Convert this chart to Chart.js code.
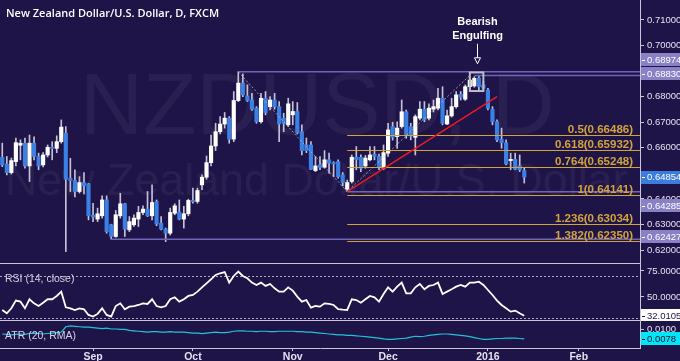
<!DOCTYPE html>
<html>
<head>
<meta charset="utf-8">
<title>NZD/USD daily</title>
<script src="https://cdn.jsdelivr.net/npm/chart.js@4.4.1/dist/chart.umd.min.js"></script>
<style>
  html, body { margin: 0; padding: 0; background: #1f1448; }
  #wrap { position: relative; width: 680px; height: 361px; overflow: hidden; background: #1f1448; }
  #wrap canvas { position: absolute; left: 0; }
</style>
</head>
<body>
<div id="wrap">
  <canvas id="price-chart" width="680" height="264" style="top:0"></canvas>
  <canvas id="rsi-chart" width="680" height="57" style="top:264px"></canvas>
  <canvas id="atr-chart" width="680" height="40" style="top:321px"></canvas>
</div>
<script>
// --- Data ---
const firstDay = '2015-08-04';
const lastDay = '2016-02-18';
const holidays = ['2015-12-25', '2016-01-01'];

const opens = [
  0.6563, 0.6536, 0.6503, 0.6546, 0.6610, 0.6618, 0.6529, 0.6618, 0.6566, 0.6533,
  0.6572, 0.6602, 0.6598, 0.6624, 0.6657, 0.6481, 0.6472, 0.6429, 0.6464, 0.6459,
  0.6336, 0.6321, 0.6334, 0.6396, 0.6299, 0.6253, 0.6334, 0.6381, 0.6279, 0.6299,
  0.6321, 0.6347, 0.6360, 0.6334, 0.6390, 0.6305, 0.6282, 0.6266, 0.6344, 0.6349,
  0.6321, 0.6342, 0.6394, 0.6390, 0.6455, 0.6485, 0.6542, 0.6607, 0.6663, 0.6693,
  0.6716, 0.6634, 0.6785, 0.6853, 0.6803, 0.6787, 0.6755, 0.6702, 0.6794, 0.6761,
  0.6787, 0.6761, 0.6716, 0.6690, 0.6729, 0.6742, 0.6663, 0.6611, 0.6611, 0.6511,
  0.6533, 0.6524, 0.6553, 0.6542, 0.6546, 0.6494, 0.6438, 0.6468, 0.6563, 0.6563,
  0.6529, 0.6553, 0.6575, 0.6566, 0.6520, 0.6579, 0.6683, 0.6644, 0.6683, 0.6741,
  0.6683, 0.6641, 0.6716, 0.6751, 0.6716, 0.6751, 0.6755, 0.6794, 0.6693, 0.6725,
  0.6761, 0.6809, 0.6790, 0.6839, 0.6842, 0.6873, 0.6846, 0.6826, 0.6751, 0.6702,
  0.6634, 0.6620, 0.6550, 0.6555, 0.6529, 0.6511
];
const highs = [
  0.6618, 0.6566, 0.6560, 0.6638, 0.6631, 0.6638, 0.6650, 0.6643, 0.6579, 0.6581,
  0.6611, 0.6624, 0.6647, 0.6709, 0.6683, 0.6559, 0.6514, 0.6487, 0.6503, 0.6461,
  0.6383, 0.6364, 0.6412, 0.6412, 0.6301, 0.6355, 0.6422, 0.6383, 0.6331, 0.6338,
  0.6371, 0.6373, 0.6429, 0.6455, 0.6396, 0.6331, 0.6286, 0.6364, 0.6381, 0.6396,
  0.6371, 0.6399, 0.6442, 0.6442, 0.6494, 0.6568, 0.6650, 0.6696, 0.6722, 0.6738,
  0.6722, 0.6820, 0.68974, 0.6889, 0.6846, 0.6813, 0.6761, 0.6813, 0.6820, 0.6800,
  0.6813, 0.6781, 0.6735, 0.6794, 0.6781, 0.6777, 0.6690, 0.6638, 0.6624, 0.6566,
  0.6566, 0.6589, 0.6579, 0.6546, 0.6553, 0.6503, 0.6474, 0.6572, 0.6605, 0.6572,
  0.6570, 0.6605, 0.6605, 0.6575, 0.6611, 0.6696, 0.6700, 0.6702, 0.6787, 0.6748,
  0.6696, 0.6729, 0.6781, 0.6781, 0.6772, 0.6787, 0.6833, 0.6839, 0.6748, 0.6794,
  0.6820, 0.6820, 0.6846, 0.6875, 0.6878, 0.6883, 0.6860, 0.6833, 0.6761, 0.6709,
  0.6677, 0.6631, 0.6579, 0.6579, 0.6572, 0.6520
];
const lows = [
  0.6526, 0.6494, 0.6497, 0.6529, 0.6553, 0.6520, 0.6468, 0.6553, 0.6514, 0.6525,
  0.6564, 0.6553, 0.6581, 0.6618, 0.6194, 0.6429, 0.6408, 0.6423, 0.6420, 0.6318,
  0.6311, 0.6311, 0.6325, 0.6266, 0.62427, 0.6250, 0.6325, 0.6253, 0.6272, 0.6292,
  0.6292, 0.6338, 0.6331, 0.6318, 0.6295, 0.6279, 0.6233, 0.6259, 0.6338, 0.6318,
  0.6286, 0.6334, 0.6383, 0.6383, 0.6436, 0.6477, 0.6529, 0.6589, 0.6654, 0.6677,
  0.6618, 0.6624, 0.6781, 0.6800, 0.6781, 0.6746, 0.6696, 0.6696, 0.6729, 0.6748,
  0.6751, 0.6624, 0.6663, 0.6683, 0.6690, 0.6654, 0.6572, 0.6581, 0.6514, 0.6507,
  0.6514, 0.6520, 0.6501, 0.6487, 0.6481, 0.6451, 0.64285, 0.6462, 0.6514, 0.6507,
  0.6520, 0.6549, 0.6553, 0.6514, 0.6514, 0.6566, 0.6630, 0.6598, 0.6677, 0.6637,
  0.6631, 0.6572, 0.6709, 0.6702, 0.6709, 0.6740, 0.6748, 0.6690, 0.6690, 0.6720,
  0.6755, 0.6787, 0.6785, 0.6829, 0.6837, 0.6826, 0.6826, 0.6748, 0.6690, 0.6624,
  0.6598, 0.6533, 0.6514, 0.6514, 0.6507, 0.6462
];
const closes = [
  0.6533, 0.6503, 0.6550, 0.6620, 0.6618, 0.6529, 0.6618, 0.6566, 0.6529, 0.6572,
  0.6602, 0.6598, 0.6624, 0.6681, 0.6477, 0.6472, 0.6429, 0.6464, 0.6451, 0.6334,
  0.6329, 0.6342, 0.6396, 0.6272, 0.6253, 0.6338, 0.6381, 0.6282, 0.6311, 0.6325,
  0.6347, 0.6360, 0.6334, 0.6386, 0.6302, 0.6282, 0.6266, 0.6347, 0.6373, 0.6321,
  0.6342, 0.6394, 0.6390, 0.6433, 0.6485, 0.6542, 0.6607, 0.6663, 0.6693, 0.6716,
  0.6634, 0.6785, 0.6853, 0.6807, 0.6785, 0.6751, 0.6702, 0.6794, 0.6738, 0.6787,
  0.6761, 0.6693, 0.6696, 0.6772, 0.6742, 0.6659, 0.6589, 0.6589, 0.6516, 0.6529,
  0.6524, 0.6553, 0.6540, 0.6537, 0.6487, 0.6464, 0.6464, 0.6563, 0.6553, 0.6520,
  0.6560, 0.6572, 0.6566, 0.6526, 0.6581, 0.6670, 0.6641, 0.6677, 0.6741, 0.6650,
  0.6646, 0.6722, 0.6751, 0.6709, 0.6755, 0.6761, 0.6794, 0.6696, 0.6725, 0.6761,
  0.6807, 0.6798, 0.6839, 0.6865, 0.6872, 0.6839, 0.6833, 0.6755, 0.6702, 0.6631,
  0.6620, 0.6537, 0.6555, 0.6516, 0.6514, 0.64854
];
const rsiValues = [
  37.5, 34.3, 39.1, 46.5, 45.5, 39.1, 47.8, 43.9, 41.3, 44.5,
  47.8, 47.8, 51.0, 55.1, 40.1, 39.1, 37.5, 39.1, 38.2, 32.7,
  31.1, 33.7, 39.1, 32.7, 31.1, 41.3, 43.9, 38.2, 40.7, 41.3,
  42.3, 43.9, 43.3, 47.8, 41.3, 40.1, 41.3, 47.8, 49.7, 45.5,
  47.8, 51.0, 51.9, 55.1, 59.3, 63.1, 67.0, 71.2, 72.8, 74.0,
  63.8, 70.2, 74.4, 70.2, 68.0, 63.8, 61.5, 63.8, 60.6, 62.5,
  58.3, 55.1, 55.1, 59.3, 56.1, 50.3, 45.5, 47.1, 39.7, 41.3,
  40.7, 43.9, 43.3, 42.3, 38.2, 37.8, 37.5, 47.8, 47.1, 44.5,
  47.8, 51.0, 49.7, 45.5, 52.9, 59.3, 55.1, 59.9, 63.8, 53.5,
  53.5, 59.3, 62.5, 57.4, 60.6, 61.5, 63.8, 52.9, 55.1, 57.4,
  59.9, 61.5, 59.9, 63.8, 63.8, 64.7, 61.5, 56.7, 51.9, 46.5,
  42.3, 39.1, 35.9, 36.9, 34.3, 32.0105
];
const atrValues = [
  0.0089, 0.0088, 0.0087, 0.0088, 0.0089, 0.0088, 0.0090, 0.0091, 0.0090, 0.0089,
  0.0090, 0.0091, 0.0092, 0.0093, 0.0105, 0.0107, 0.0106, 0.0105, 0.0104, 0.0104,
  0.0103, 0.0102, 0.0101, 0.0102, 0.0100, 0.0100, 0.0099, 0.0099, 0.0097, 0.0096,
  0.0095, 0.0094, 0.0093, 0.0094, 0.0094, 0.0093, 0.0093, 0.0094, 0.0093, 0.0093,
  0.0093, 0.0092, 0.0091, 0.0091, 0.0090, 0.0091, 0.0092, 0.0093, 0.0092, 0.0092,
  0.0093, 0.0095, 0.0096, 0.0096, 0.0095, 0.0095, 0.0094, 0.0095, 0.0095, 0.0094,
  0.0094, 0.0095, 0.0095, 0.0095, 0.0095, 0.0094, 0.0094, 0.0093, 0.0093, 0.0092,
  0.0091, 0.0090, 0.0089, 0.0088, 0.0087, 0.0087, 0.0086, 0.0086, 0.0085, 0.0084,
  0.0083, 0.0082, 0.0081, 0.0080, 0.0078, 0.0077, 0.0077, 0.0078, 0.0079, 0.0080,
  0.0082, 0.0084, 0.0083, 0.0084, 0.0086, 0.0087, 0.0088, 0.0089, 0.0089, 0.0088,
  0.0087, 0.0086, 0.0085, 0.0083, 0.0081, 0.0079, 0.0077, 0.0077, 0.0078, 0.0079,
  0.0079, 0.0080, 0.0080, 0.0080, 0.0079, 0.0078
];

const priceTicks = [0.62, 0.63, 0.64, 0.66, 0.67, 0.68, 0.70, 0.71];
const rsiTicks = [75, 50];
const atrTicks = [0.01];
const monthTickDates = ['2015-09-01', '2015-10-01', '2015-11-02', '2015-12-01', '2016-01-04', '2016-02-01'];
const monthTickLabels = ['Sep', 'Oct', 'Nov', 'Dec', '2016', 'Feb'];

// drawings on the price panel (bar index, price)
const fibRatios = ['0.5', '0.618', '0.764', '1', '1.236', '1.382'];
const fibLevels = [0.66486, 0.65932, 0.65248, 0.64141, 0.63034, 0.62350];
const fibStart = 76;
const srLevels = [0.68974, 0.68830, 0.64285, 0.62427];
const srStarts = [52, 104, 76, 24];
const trendLine = [[76, 0.64285], [109, 0.6800]];
const swingPoints = [[52, 0.68974], [76, 0.64285], [103, 0.68830]];
const patternBars = [104, 105];
const rsiLevels = [70, 30];

// visible ranges of the three panels
const priceMin = 0.61454, priceMax = 0.71782;
const rsiMin = 26.9, rsiMax = 81.7;
const atrMin = 0.0058, atrMax = 0.01177;

// --- Colours ---
const BG = '#1f1448';
const UP = '#ffffff';
const DOWN = '#3b80e4';
const WICK = '#c4c1d8';
const AXIS = '#c9c6dc';
const TICK_TEXT = '#e4e2f0';
const GOLD = '#d2a43c';
const SR_LINE = '#6f64b6';
const SR_BOX = '#8a80c6';

Chart.defaults.font.family = '"Liberation Sans", Arial, sans-serif';

function buildDays() {
    const out = [];
    const d = new Date(firstDay + 'T00:00:00Z');
    const end = new Date(lastDay + 'T00:00:00Z');
    while (d <= end) {
        const wd = d.getUTCDay();
        const s = d.toISOString().slice(0, 10);
        if (wd !== 0 && wd !== 6 && !holidays.includes(s)) out.push(s);
        d.setUTCDate(d.getUTCDate() + 1);
    }
    return out;
}
const days = buildDays();

function rightAxis(min, max, ticks, format) {
    return {
        position: 'right', min: min, max: max,
        afterBuildTicks: s => { s.ticks = ticks.map(v => ({ value: v })); },
        afterFit: s => { s.width = 40; s.paddingTop = 0; s.paddingBottom = 0; },
        grid: { drawOnChartArea: false, tickLength: 4, tickColor: AXIS },
        border: { color: AXIS },
        ticks: { color: TICK_TEXT, padding: 3, font: { size: 9.5 }, callback: format }
    };
}

// value tag on the right axis
function valueBox(ctx, scale, text, y, fill, color) {
    const x = scale.left + 1;
    ctx.fillStyle = fill;
    ctx.fillRect(x, Math.round(y - 6.5), 680 - x, 13);
    ctx.strokeStyle = color;
    ctx.lineWidth = 1;
    ctx.beginPath();
    ctx.moveTo(x + 1, Math.round(y) + 0.5);
    ctx.lineTo(x + 4, Math.round(y) + 0.5);
    ctx.stroke();
    ctx.fillStyle = color;
    ctx.font = '9.5px "Liberation Sans"';
    ctx.textAlign = 'left';
    ctx.textBaseline = 'middle';
    ctx.fillText(text, x + 6, Math.round(y) + 0.5);
}

function fitText(ctx, text, x, y, width, font) {
    ctx.font = font.replace('SIZE', '100px');
    const size = 100 * width / ctx.measureText(text).width;
    ctx.font = font.replace('SIZE', size.toFixed(1) + 'px');
    ctx.fillText(text, x, y);
}

function hLine(ctx, x0, x1, y) {
    ctx.beginPath();
    ctx.moveTo(x0, y);
    ctx.lineTo(x1, y);
    ctx.stroke();
}

const priceOverlay = {
    id: 'priceOverlay',
    beforeDatasetsDraw(chart) {
        const ctx = chart.ctx;
        ctx.save();
        ctx.textAlign = 'left';
        ctx.textBaseline = 'alphabetic';
        ctx.fillStyle = 'rgba(255,255,255,0.05)';
        fitText(ctx, 'NZDUSD, D', 80, 134, 475, '400 SIZE "Liberation Sans"');
        fitText(ctx, 'New Zealand Dollar/U.S. Dollar', 5, 195, 623, '400 SIZE "Liberation Sans"');
        ctx.fillStyle = '#ffffff';
        fitText(ctx, 'New Zealand Dollar/U.S. Dollar, D, FXCM', 6, 17, 213, '600 SIZE "Open Sans"');
        ctx.restore();
    },
    afterDatasetsDraw(chart) {
        const { ctx, chartArea: area } = chart;
        const x = chart.scales.x, y = chart.scales.y;
        ctx.save();

        // support / resistance lines
        ctx.strokeStyle = SR_LINE;
        ctx.lineWidth = 1.5;
        srLevels.forEach((v, i) => hLine(ctx, x.getPixelForValue(srStarts[i]), area.right, y.getPixelForValue(v)));

        // fibonacci levels
        ctx.strokeStyle = GOLD;
        ctx.lineWidth = 1;
        ctx.fillStyle = GOLD;
        ctx.font = 'bold 11.5px "Liberation Sans"';
        ctx.textAlign = 'right';
        ctx.textBaseline = 'alphabetic';
        fibLevels.forEach((v, i) => {
            const py = Math.round(y.getPixelForValue(v)) + 0.5;
            hLine(ctx, x.getPixelForValue(fibStart), area.right, py);
            ctx.fillText(`${fibRatios[i]}(${v.toFixed(5)})`, area.right - 7, py - 2.5);
        });

        // swing zigzag
        ctx.strokeStyle = 'rgba(200,198,215,0.7)';
        ctx.setLineDash([2, 2]);
        ctx.beginPath();
        swingPoints.forEach(([i, v], k) => {
            const px = x.getPixelForValue(i), py = y.getPixelForValue(v);
            if (k === 0) ctx.moveTo(px, py); else ctx.lineTo(px, py);
        });
        ctx.stroke();
        ctx.setLineDash([]);

        // trend line
        ctx.strokeStyle = '#ec1c24';
        ctx.lineWidth = 1.5;
        ctx.beginPath();
        ctx.moveTo(x.getPixelForValue(trendLine[0][0]), y.getPixelForValue(trendLine[0][1]));
        ctx.lineTo(x.getPixelForValue(trendLine[1][0]), y.getPixelForValue(trendLine[1][1]));
        ctx.stroke();

        // bearish engulfing box
        const [b0, b1] = patternBars;
        const bx0 = x.getPixelForValue(b0) - 4.5, bx1 = x.getPixelForValue(b1) + 4.5;
        const by0 = y.getPixelForValue(Math.max(highs[b0], highs[b1])) - 3;
        const by1 = y.getPixelForValue(Math.min(lows[b0], lows[b1])) + 1;
        ctx.strokeStyle = '#bdbcc8';
        ctx.lineWidth = 2;
        ctx.strokeRect(bx0, by0, bx1 - bx0, by1 - by0);

        // arrow + caption
        const ax = Math.round((x.getPixelForValue(b0) + x.getPixelForValue(b1)) / 2) + 0.5;
        const top = y.getPixelForValue(srLevels[0]);
        ctx.strokeStyle = '#ffffff';
        ctx.lineWidth = 1;
        ctx.beginPath();
        ctx.moveTo(ax, top - 28);
        ctx.lineTo(ax, top - 14);
        ctx.stroke();
        ctx.beginPath();
        ctx.moveTo(ax - 3, top - 14);
        ctx.lineTo(ax + 3, top - 14);
        ctx.lineTo(ax, top - 8);
        ctx.closePath();
        ctx.fillStyle = BG;
        ctx.fill();
        ctx.stroke();
        ctx.fillStyle = '#ffffff';
        ctx.font = 'bold 11px "Liberation Sans"';
        ctx.textAlign = 'center';
        ctx.fillText('Bearish', ax, top - 47);
        ctx.fillText('Engulfing', ax, top - 33);

        // panel bottom line
        ctx.strokeStyle = AXIS;
        ctx.lineWidth = 1;
        hLine(ctx, area.left, area.right, area.bottom - 0.5);
        ctx.restore();
    },
    afterDraw(chart) {
        const ctx = chart.ctx, y = chart.scales.y;
        ctx.save();
        valueBox(ctx, y, '0.68974', y.getPixelForValue(0.68974) - 12, SR_BOX, '#ffffff');
        valueBox(ctx, y, '0.68830', y.getPixelForValue(0.68830) - 1.5, SR_BOX, '#ffffff');
        valueBox(ctx, y, closes[closes.length - 1].toFixed(5), y.getPixelForValue(closes[closes.length - 1]), '#3a7ddf', '#ffffff');
        valueBox(ctx, y, '0.64285', y.getPixelForValue(0.64285) + 14, SR_BOX, '#ffffff');
        valueBox(ctx, y, '0.62427', y.getPixelForValue(0.62427) - 2.5, SR_BOX, '#ffffff');
        ctx.restore();
    }
};

// --- Price panel ---
const bodyData = opens.map((o, i) => [Math.min(o, closes[i]), Math.max(o, closes[i])]);
const wickData = lows.map((l, i) => [l, highs[i]]);
const bodyColors = opens.map((o, i) => closes[i] >= o ? UP : DOWN);

new Chart(document.getElementById('price-chart'), {
    type: 'bar',
    data: {
        labels: days,
        datasets: [
            { label: 'body', data: bodyData, backgroundColor: bodyColors, barThickness: 3.5, minBarLength: 1, grouped: false, order: 0 },
            { label: 'wick', data: wickData, backgroundColor: WICK, barThickness: 1, grouped: false, order: 1 }
        ]
    },
    options: {
        responsive: false,
        animation: false,
        layout: { padding: 0 },
        plugins: { legend: { display: false }, tooltip: { enabled: false } },
        scales: {
            x: { display: false, offset: true },
            y: rightAxis(priceMin, priceMax, priceTicks, v => v.toFixed(5))
        }
    },
    plugins: [priceOverlay]
});

// --- RSI panel ---
const rsiOverlay = {
    id: 'rsiOverlay',
    beforeDatasetsDraw(chart) {
        const { ctx, chartArea: area } = chart;
        const y = chart.scales.y;
        ctx.save();
        ctx.strokeStyle = 'rgba(210,208,225,0.8)';
        ctx.lineWidth = 1;
        ctx.setLineDash([2, 2]);
        rsiLevels.forEach(v => hLine(ctx, area.left, area.right, Math.round(y.getPixelForValue(v)) + 0.5));
        ctx.restore();
    },
    afterDraw(chart) {
        const { ctx, chartArea: area } = chart;
        const y = chart.scales.y;
        ctx.save();
        ctx.strokeStyle = AXIS;
        ctx.lineWidth = 1;
        hLine(ctx, area.left, area.right, area.bottom - 0.5);
        ctx.fillStyle = '#d4d2e4';
        ctx.font = '10.5px "Liberation Sans"';
        ctx.textAlign = 'left';
        ctx.textBaseline = 'middle';
        ctx.fillText('RSI (14, close)', 5, 15);
        const last = rsiValues[rsiValues.length - 1];
        valueBox(ctx, y, last.toFixed(4), y.getPixelForValue(last), '#ffffff', '#1f1448');
        ctx.restore();
    }
};

new Chart(document.getElementById('rsi-chart'), {
    type: 'line',
    data: {
        labels: days,
        datasets: [{ data: rsiValues, borderColor: '#ffffff', borderWidth: 1.8, pointRadius: 0, tension: 0 }]
    },
    options: {
        responsive: false,
        animation: false,
        layout: { padding: 0 },
        plugins: { legend: { display: false }, tooltip: { enabled: false } },
        scales: {
            x: { display: false, offset: true },
            y: rightAxis(rsiMin, rsiMax, rsiTicks, v => v.toFixed(4))
        }
    },
    plugins: [rsiOverlay]
});

// --- ATR panel ---
const atrOverlay = {
    id: 'atrOverlay',
    afterDraw(chart) {
        const ctx = chart.ctx;
        const y = chart.scales.y;
        ctx.save();
        ctx.fillStyle = '#d4d2e4';
        ctx.font = '10.5px "Liberation Sans"';
        ctx.textAlign = 'left';
        ctx.textBaseline = 'middle';
        ctx.fillText('ATR (20, RMA)', 5, 15);
        const last = atrValues[atrValues.length - 1];
        valueBox(ctx, y, last.toFixed(4), y.getPixelForValue(last), '#00e6f6', '#10102a');
        ctx.restore();
    }
};

new Chart(document.getElementById('atr-chart'), {
    type: 'line',
    data: {
        labels: days,
        datasets: [{ data: atrValues, borderColor: '#1fc3d6', borderWidth: 1.2, pointRadius: 0, tension: 0 }]
    },
    options: {
        responsive: false,
        animation: false,
        layout: { padding: 0 },
        plugins: { legend: { display: false }, tooltip: { enabled: false } },
        scales: {
            x: {
                offset: true,
                afterBuildTicks: s => { s.ticks = monthTickDates.map(d => ({ value: days.indexOf(d) })); },
                afterFit: s => { s.height = 13; s.paddingLeft = 0; s.paddingRight = 0; },
                grid: { drawOnChartArea: false, tickLength: 3, tickColor: AXIS },
                border: { color: AXIS },
                ticks: {
                    autoSkip: false, maxRotation: 0, padding: 0, color: TICK_TEXT,
                    font: { size: 10.5, weight: 'bold' },
                    callback: (v, i) => monthTickLabels[i]
                }
            },
            y: rightAxis(atrMin, atrMax, atrTicks, v => v.toFixed(4))
        }
    },
    plugins: [atrOverlay]
});
</script>
</body>
</html>
